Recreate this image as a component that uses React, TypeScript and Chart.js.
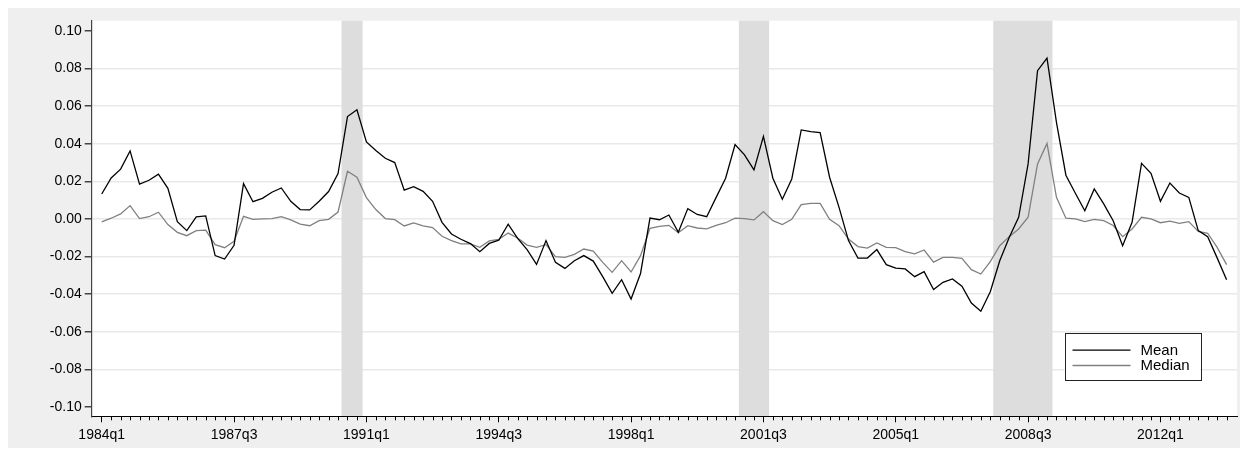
import { useEffect, useRef } from "react"
import { Chart, registerables } from "chart.js"
import type { Plugin } from "chart.js"

Chart.register(...registerables)

// quarterly observations, 1984q1 .. 2013q4
const startYear = 1984
const nQuarters = 120
const quarters: string[] = []
for (let i = 0; i < nQuarters; i++) {
  quarters.push(`${startYear + Math.floor(i / 4)}q${(i % 4) + 1}`)
}

const xTickLabels = ["1984q1", "1987q3", "1991q1", "1994q3", "1998q1", "2001q3", "2005q1", "2008q3", "2012q1"]
const yTickValues = [-0.1, -0.08, -0.06, -0.04, -0.02, 0, 0.02, 0.04, 0.06, 0.08, 0.1]

const meanValues = [
  0.0133, 0.0218, 0.0265, 0.0362, 0.0185, 0.0206, 0.0238, 0.0163, -0.0014, -0.0062,
  0.0011, 0.0016, -0.0195, -0.0213, -0.014, 0.0188, 0.0092, 0.011, 0.0142, 0.0165,
  0.0094, 0.005, 0.0048, 0.0094, 0.0146, 0.0242, 0.0545, 0.0581, 0.041, 0.0364,
  0.0323, 0.03, 0.0153, 0.0172, 0.0147, 0.0094, -0.0018, -0.008, -0.0108, -0.0131,
  -0.0174, -0.013, -0.0113, -0.0028, -0.0103, -0.0163, -0.0242, -0.0115, -0.0231, -0.0263,
  -0.0222, -0.0195, -0.0224, -0.0307, -0.0396, -0.0323, -0.0426, -0.029, 0.0005, -0.0004,
  0.0021, -0.0071, 0.0055, 0.0024, 0.0012, 0.0115, 0.0217, 0.0396, 0.0341, 0.0261,
  0.044, 0.0217, 0.0105, 0.0213, 0.0474, 0.0465, 0.046, 0.0222, 0.0062, -0.0115,
  -0.0208, -0.0208, -0.0163, -0.0243, -0.0262, -0.0266, -0.0307, -0.028, -0.0376, -0.0337,
  -0.0319, -0.0358, -0.0447, -0.0491, -0.0387, -0.0222, -0.0098, 0.0009, 0.0293, 0.0789,
  0.0856, 0.0514, 0.0233, 0.0137, 0.0044, 0.016, 0.008, -0.0009, -0.0142, -0.0018,
  0.0296, 0.0243, 0.0094, 0.0191, 0.0138, 0.0115, -0.0062, -0.0094, -0.0207, -0.0324,
]

const medianValues = [
  -0.0016, 0.0004, 0.0027, 0.0071, 0.0002, 0.0012, 0.0036, -0.003, -0.0071, -0.0089,
  -0.0062, -0.0059, -0.0137, -0.0153, -0.0119, 0.0014, -0.0002, 0.0, 0.0002, 0.0012,
  -0.0005, -0.0027, -0.0036, -0.0009, -0.0002, 0.0037, 0.0254, 0.0222, 0.0114, 0.005,
  0.0002, -0.0004, -0.0037, -0.0021, -0.0037, -0.0046, -0.0092, -0.0115, -0.0133, -0.0133,
  -0.0151, -0.0117, -0.0108, -0.0075, -0.0101, -0.0139, -0.0151, -0.0137, -0.02, -0.0204,
  -0.0188, -0.016, -0.0171, -0.0231, -0.0284, -0.0222, -0.0282, -0.0195, -0.005, -0.0039,
  -0.0034, -0.0073, -0.0036, -0.0048, -0.0053, -0.0034, -0.002, 0.0004, 0.0002, -0.0005,
  0.0039, -0.0009, -0.003, -0.0002, 0.0076, 0.0083, 0.0083, -0.0002, -0.0036, -0.0107,
  -0.0147, -0.0155, -0.0128, -0.0151, -0.0152, -0.0174, -0.0186, -0.0165, -0.023, -0.0204,
  -0.0204, -0.0209, -0.027, -0.0293, -0.0227, -0.0142, -0.0094, -0.0053, 0.0009, 0.0293,
  0.0402, 0.0115, 0.0004, 0.0, -0.0014, -0.0002, -0.0009, -0.0035, -0.0094, -0.0053,
  0.0009, 0.0, -0.002, -0.0012, -0.0023, -0.0014, -0.0066, -0.0076, -0.0151, -0.0243,
]

// recession bands, in quarter-index units (0 = 1984q1)
const recessionFrom = [25.37, 67.4, 94.31]
const recessionTo = [27.6, 70.6, 100.58]

const FONT = "'Liberation Sans', Arial, Helvetica, sans-serif"

const decorPlugin: Plugin<"line"> = {
  id: "decor",
  beforeDraw(chart) {
    const { ctx, chartArea } = chart
    ctx.save()
    ctx.fillStyle = "#ffffff"
    ctx.fillRect(chartArea.left, chartArea.top, chartArea.right - chartArea.left, chartArea.bottom - chartArea.top)
    ctx.restore()
  },
  beforeDatasetsDraw(chart) {
    const { ctx, chartArea, scales } = chart
    ctx.save()
    ctx.fillStyle = "#dddddd"
    recessionFrom.forEach((from, k) => {
      const x0 = scales.x.getPixelForValue(from)
      const x1 = scales.x.getPixelForValue(recessionTo[k])
      ctx.fillRect(x0, chartArea.top, x1 - x0, chartArea.bottom - chartArea.top)
    })
    ctx.restore()
  },
  afterDraw(chart) {
    const { ctx, chartArea, scales } = chart
    ctx.save()
    // minor quarter ticks
    ctx.strokeStyle = "#000000"
    ctx.lineWidth = 1
    quarters.forEach((q, i) => {
      if (xTickLabels.includes(q)) return
      const x = Math.round(scales.x.getPixelForValue(i)) + 0.5
      ctx.beginPath()
      ctx.moveTo(x, chartArea.bottom)
      ctx.lineTo(x, chartArea.bottom + 4)
      ctx.stroke()
    })

    // legend box
    const lx = chartArea.right - 172.5
    const ly = chartArea.top + 312.5
    ctx.fillStyle = "#ffffff"
    ctx.fillRect(lx, ly, 136, 47)
    ctx.strokeStyle = "#222222"
    ctx.strokeRect(Math.round(lx) + 0.5, Math.round(ly) + 0.5, 136, 47)
    ctx.font = `15px ${FONT}`
    ctx.textBaseline = "middle"
    ctx.textAlign = "left"
    chart.data.datasets.forEach((ds, k) => {
      const y = ly + 17 + k * 15.3
      ctx.strokeStyle = ds.borderColor as string
      ctx.lineWidth = 1.3
      ctx.beginPath()
      ctx.moveTo(lx + 8, y)
      ctx.lineTo(lx + 66, y)
      ctx.stroke()
      ctx.fillStyle = "#000000"
      ctx.fillText(ds.label ?? "", lx + 76, y + 0.5)
    })
    ctx.restore()
  },
}

export default function App() {
  const chartRef = useRef<HTMLCanvasElement>(null)
  const chartInstance = useRef<Chart<"line"> | null>(null)

  useEffect(() => {
    if (!chartRef.current) return
    if (chartInstance.current) chartInstance.current.destroy()
    const ctx = chartRef.current.getContext("2d")
    if (!ctx) return

    chartInstance.current = new Chart(ctx, {
      type: "line",
      data: {
        datasets: [
          {
            label: "Mean",
            data: meanValues.map((y, i) => ({ x: i, y })),
            borderColor: "#000000",
            borderWidth: 1.3,
            pointRadius: 0,
            tension: 0,
          },
          {
            label: "Median",
            data: medianValues.map((y, i) => ({ x: i, y })),
            borderColor: "#808080",
            borderWidth: 1.3,
            pointRadius: 0,
            tension: 0,
          },
        ],
      },
      options: {
        animation: false,
        responsive: true,
        maintainAspectRatio: false,
        events: [],
        layout: { padding: { top: 16.7, right: 11, left: 0, bottom: 0 } },
        plugins: {
          legend: { display: false },
          tooltip: { enabled: false },
        },
        scales: {
          x: {
            type: "linear",
            min: -1.06,
            max: 120.1,
            afterBuildTicks: (axis) => {
              axis.ticks = quarters.map((_, i) => ({ value: i }))
            },
            afterFit: (axis) => {
              axis.height = 38.7
            },
            ticks: {
              autoSkip: false,
              maxRotation: 0,
              padding: 4,
              color: "#000000",
              font: { family: FONT, size: 14 },
              callback: (value) => {
                const q = quarters[Number(value)]
                return xTickLabels.includes(q) ? q : ""
              },
            },
            grid: {
              drawOnChartArea: false,
              tickLength: 6,
              tickColor: (c) => (xTickLabels.includes(quarters[c.tick?.value ?? 0]) ? "#000000" : "rgba(0,0,0,0)"),
            },
            border: { color: "#000000", width: 1, z: 1 },
          },
          y: {
            min: -0.105,
            max: 0.1055,
            afterBuildTicks: (axis) => {
              axis.ticks = yTickValues.map((v) => ({ value: v }))
            },
            afterFit: (axis) => {
              axis.width = 84.7
            },
            ticks: {
              padding: 3,
              color: "#000000",
              font: { family: FONT, size: 14 },
              callback: (value) => Number(value).toFixed(2),
            },
            grid: {
              color: (c) => (Math.abs(c.tick?.value ?? 0) > 0.099 ? "rgba(0,0,0,0)" : "#e9e9e9"),
              lineWidth: 1.5,
              tickLength: 7,
              tickColor: "#444444",
            },
            border: { color: "#444444", width: 1.2, z: 1 },
          },
        },
      },
      plugins: [decorPlugin],
    })

    return () => {
      if (chartInstance.current) {
        chartInstance.current.destroy()
        chartInstance.current = null
      }
    }
  }, [])

  return (
    <div style={{ position: "relative", width: 1248, height: 456, background: "#ffffff", margin: -8 }}>
      <div style={{ position: "absolute", left: 7, top: 4, width: 1241, height: 451, background: "#efefef" }}>
        <canvas ref={chartRef} />
      </div>
    </div>
  )
}
